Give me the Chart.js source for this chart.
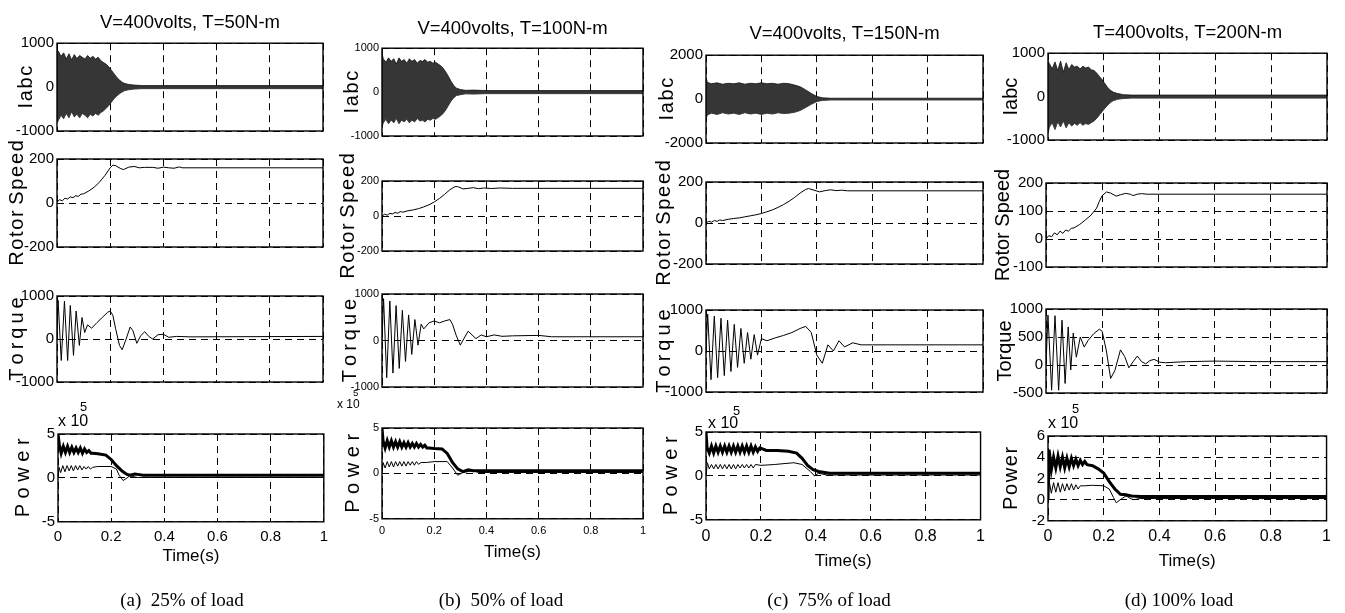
<!DOCTYPE html>
<html>
<head>
<meta charset="utf-8">
<script src="https://cdn.jsdelivr.net/npm/chart.js@4.4.0/dist/chart.umd.min.js"></script>
<style>
body { margin: 0; background: #fff; width: 1345px; height: 613px; position: relative; overflow: hidden; }
canvas { position: absolute; }
.cap { position: absolute; font-family: "Liberation Serif", serif; font-size: 19px; transform: translate(-50%, -50%); white-space: pre; color: #000; }
.exp { position: absolute; font-family: "Liberation Sans", sans-serif; color: #000; line-height: 1; }
</style>
</head>
<body>
<script>
// ---- (a) 25% load ----
const aIabcT = [0, 0.005, 0.015, 0.025, 0.035, 0.045, 0.055, 0.065, 0.075, 0.085, 0.095, 0.105, 0.115, 0.125, 0.135, 0.145, 0.155, 0.165, 0.175, 0.185, 0.195, 0.205, 0.215, 0.225, 0.235, 0.245, 0.255, 0.27, 0.29, 0.32, 0.4, 0.6, 0.8, 1.0];
const aIabcHi = [850, 820, 700, 780, 640, 760, 620, 740, 650, 720, 680, 640, 720, 660, 700, 640, 680, 600, 560, 520, 460, 380, 300, 220, 160, 110, 80, 60, 45, 35, 35, 35, 35, 35];
const aIabcLo = [-820, -760, -640, -720, -600, -700, -560, -680, -620, -700, -600, -640, -700, -620, -660, -600, -640, -580, -540, -480, -420, -340, -260, -200, -150, -110, -80, -60, -45, -35, -35, -35, -35, -35];
const aSpeedT = [0, 0.01, 0.02, 0.03, 0.04, 0.05, 0.06, 0.07, 0.08, 0.09, 0.10, 0.12, 0.14, 0.16, 0.18, 0.20, 0.21, 0.22, 0.24, 0.25, 0.27, 0.29, 0.31, 0.33, 0.36, 0.38, 0.40, 0.42, 0.44, 0.46, 0.47, 1.0];
const aSpeed = [5, 15, 10, 22, 18, 28, 24, 33, 30, 40, 42, 55, 72, 95, 125, 160, 172, 170, 156, 152, 163, 166, 160, 162, 162, 158, 163, 160, 158, 164, 160, 160];
const aTorqueT = [0, 0.004, 0.016, 0.028, 0.04, 0.05, 0.062, 0.072, 0.084, 0.094, 0.104, 0.115, 0.13, 0.15, 0.17, 0.19, 0.2, 0.21, 0.22, 0.235, 0.245, 0.26, 0.275, 0.285, 0.3, 0.315, 0.33, 0.345, 0.36, 0.38, 0.4, 0.42, 0.45, 0.5, 1.0];
const aTorque = [0, 900, -500, 880, -500, 780, -380, 650, -150, 500, 150, 330, 250, 380, 500, 620, 650, 550, 250, -150, -250, 0, 280, 200, -100, 80, 170, 60, 0, 100, 110, 40, 60, 50, 60];
const aPowerT = [0, 0.005, 0.012, 0.02, 0.028, 0.036, 0.044, 0.052, 0.06, 0.068, 0.076, 0.084, 0.092, 0.1, 0.108, 0.116, 0.124, 0.13, 0.15, 0.18, 0.2, 0.22, 0.24, 0.25, 0.26, 0.27, 0.29, 0.3, 0.32, 1.0];
const aPowerThick = [5, 3.8, 2.8, 3.6, 2.9, 3.6, 2.9, 3.5, 2.9, 3.4, 2.9, 3.4, 2.8, 3.3, 2.9, 3.1, 2.8, 2.8, 2.75, 2.6, 2.1, 1.4, 0.8, 0.6, 0.4, 0.3, 0.45, 0.4, 0.3, 0.3];
const aPowerThinT = [0, 0.004, 0.01, 0.018, 0.026, 0.034, 0.042, 0.05, 0.058, 0.066, 0.074, 0.082, 0.09, 0.098, 0.106, 0.114, 0.122, 0.13, 0.15, 0.2, 0.22, 0.23, 0.245, 0.26, 0.27, 0.29, 0.3, 1.0];
const aPowerThin = [0, 1.2, 0.6, 1.4, 0.7, 1.4, 0.8, 1.4, 0.8, 1.4, 0.9, 1.4, 0.9, 1.3, 1.0, 1.3, 1.0, 1.2, 1.3, 1.3, 1.0, 0.3, -0.3, 0.0, 0.25, 0.1, 0.05, 0.05];

// ---- (b) 50% load ----
const bIabcT = [0, 0.005, 0.015, 0.025, 0.035, 0.045, 0.055, 0.065, 0.075, 0.085, 0.095, 0.105, 0.115, 0.125, 0.135, 0.145, 0.155, 0.165, 0.175, 0.185, 0.195, 0.205, 0.215, 0.225, 0.235, 0.245, 0.255, 0.265, 0.275, 0.285, 0.3, 0.32, 0.35, 0.4, 1.0];
const bIabcHi = [880, 760, 680, 780, 700, 760, 640, 780, 700, 740, 660, 760, 700, 740, 660, 720, 700, 740, 680, 700, 660, 680, 640, 600, 540, 450, 350, 240, 150, 90, 60, 40, 45, 35, 35];
const bIabcLo = [-800, -700, -620, -720, -640, -700, -600, -720, -640, -680, -620, -700, -640, -680, -600, -660, -640, -680, -620, -640, -600, -620, -580, -540, -480, -400, -300, -200, -130, -80, -60, -40, -45, -35, -35];
const bSpeedT = [0, 0.01, 0.02, 0.03, 0.04, 0.05, 0.06, 0.07, 0.08, 0.10, 0.12, 0.14, 0.16, 0.18, 0.20, 0.22, 0.24, 0.26, 0.28, 0.29, 0.31, 0.33, 0.35, 0.37, 0.39, 0.42, 0.45, 0.5, 1.0];
const bSpeed = [0, 10, 5, 15, 12, 20, 16, 25, 22, 30, 35, 42, 52, 64, 80, 100, 124, 150, 168, 168, 155, 158, 162, 156, 160, 157, 160, 158, 158];
const bTorqueT = [0, 0.006, 0.018, 0.03, 0.042, 0.054, 0.066, 0.078, 0.09, 0.102, 0.114, 0.126, 0.138, 0.15, 0.16, 0.18, 0.2, 0.22, 0.24, 0.26, 0.27, 0.285, 0.3, 0.315, 0.33, 0.345, 0.36, 0.38, 0.4, 0.43, 0.46, 0.5, 0.6, 0.65, 1.0];
const bTorque = [0, 900, -800, 850, -700, 750, -600, 650, -450, 550, -300, 450, -100, 350, 250, 380, 420, 380, 420, 450, 350, 100, -100, 50, 200, 120, 40, 120, 80, 120, 90, 100, 110, 80, 80];
const bPowerT = [0, 0.004, 0.012, 0.02, 0.028, 0.036, 0.044, 0.052, 0.06, 0.068, 0.076, 0.084, 0.092, 0.1, 0.108, 0.116, 0.124, 0.132, 0.14, 0.148, 0.156, 0.164, 0.172, 0.18, 0.2, 0.23, 0.25, 0.27, 0.29, 0.31, 0.33, 0.35, 1.0];
const bPowerThick = [5, 3.6, 2.8, 3.6, 2.9, 3.6, 2.9, 3.5, 2.9, 3.5, 2.9, 3.4, 2.9, 3.4, 2.9, 3.3, 2.9, 3.3, 2.9, 3.2, 2.9, 3.1, 2.8, 2.8, 2.75, 2.7, 2.2, 1.2, 0.5, 0.2, 0.4, 0.3, 0.3];
const bPowerThinT = [0, 0.004, 0.012, 0.02, 0.028, 0.036, 0.044, 0.052, 0.06, 0.068, 0.076, 0.084, 0.092, 0.1, 0.108, 0.116, 0.124, 0.132, 0.14, 0.15, 0.17, 0.2, 0.25, 0.27, 0.29, 0.31, 0.33, 0.35, 0.37, 1.0];
const bPowerThin = [0, 1.2, 0.6, 1.3, 0.7, 1.3, 0.7, 1.3, 0.8, 1.3, 0.8, 1.3, 0.8, 1.3, 0.9, 1.3, 0.9, 1.3, 1.0, 1.2, 1.2, 1.3, 1.3, 0.6, -0.2, 0.1, 0.2, 0.3, 0.1, 0.1];

// ---- (c) 75% load ----
const cIabcT = [0, 0.005, 0.02, 0.04, 0.06, 0.08, 0.10, 0.12, 0.14, 0.16, 0.18, 0.20, 0.22, 0.24, 0.26, 0.28, 0.30, 0.32, 0.34, 0.36, 0.38, 0.40, 0.42, 0.45, 0.5, 1.0];
const cIabcHi = [1000, 760, 700, 740, 680, 720, 700, 740, 680, 720, 700, 740, 700, 720, 680, 720, 700, 640, 560, 420, 260, 120, 60, 40, 40, 40];
const cIabcLo = [-900, -720, -640, -700, -620, -680, -640, -700, -620, -680, -640, -700, -640, -680, -620, -660, -640, -600, -520, -380, -240, -110, -60, -40, -40, -40];
const cSpeedT = [0, 0.01, 0.02, 0.03, 0.04, 0.05, 0.06, 0.08, 0.10, 0.12, 0.14, 0.16, 0.18, 0.20, 0.22, 0.24, 0.26, 0.28, 0.30, 0.32, 0.34, 0.36, 0.37, 0.39, 0.41, 0.43, 0.45, 0.47, 0.49, 0.51, 1.0];
const cSpeed = [0, 8, 4, 12, 8, 15, 12, 18, 22, 25, 30, 35, 40, 46, 55, 64, 76, 90, 106, 125, 146, 164, 168, 160, 152, 158, 162, 158, 160, 157, 157];
const cTorqueT = [0, 0.006, 0.018, 0.03, 0.042, 0.054, 0.066, 0.078, 0.09, 0.102, 0.114, 0.126, 0.138, 0.15, 0.162, 0.174, 0.186, 0.2, 0.22, 0.25, 0.28, 0.31, 0.34, 0.36, 0.38, 0.4, 0.42, 0.44, 0.46, 0.48, 0.5, 0.53, 0.56, 0.6, 1.0];
const cTorque = [0, 900, -700, 850, -650, 800, -600, 750, -500, 650, -400, 550, -300, 450, -200, 400, -100, 300, 250, 320, 380, 450, 550, 600, 450, -100, -300, 150, 0, 250, 100, 200, 150, 150, 150];
const cPowerT = [0, 0.004, 0.012, 0.02, 0.028, 0.036, 0.044, 0.052, 0.06, 0.068, 0.076, 0.084, 0.092, 0.1, 0.108, 0.116, 0.124, 0.132, 0.14, 0.148, 0.156, 0.164, 0.172, 0.18, 0.188, 0.196, 0.22, 0.26, 0.3, 0.33, 0.35, 0.37, 0.39, 0.41, 0.45, 1.0];
const cPowerThick = [5, 3.2, 2.6, 3.4, 2.6, 3.4, 2.7, 3.4, 2.7, 3.4, 2.7, 3.4, 2.7, 3.4, 2.7, 3.4, 2.7, 3.4, 2.7, 3.4, 2.7, 3.4, 2.7, 3.3, 2.8, 3.2, 2.9, 2.9, 2.8, 2.6, 2.0, 1.2, 0.7, 0.5, 0.3, 0.3];
const cPowerThinT = [0, 0.005, 0.012, 0.02, 0.028, 0.036, 0.044, 0.052, 0.06, 0.068, 0.076, 0.084, 0.092, 0.1, 0.108, 0.116, 0.124, 0.132, 0.14, 0.148, 0.156, 0.164, 0.172, 0.18, 0.2, 0.25, 0.32, 0.35, 0.38, 0.395, 0.41, 0.44, 1.0];
const cPowerThin = [0, 1.5, 0.8, 1.3, 0.8, 1.3, 0.8, 1.3, 0.8, 1.3, 0.8, 1.3, 0.8, 1.3, 0.8, 1.3, 0.9, 1.3, 0.9, 1.3, 0.9, 1.3, 0.9, 1.3, 1.2, 1.3, 1.5, 1.3, 0.5, 0.0, 0.3, 0.1, 0.1];

// ---- (d) 100% load ----
const dIabcT = [0, 0.005, 0.015, 0.025, 0.035, 0.045, 0.055, 0.065, 0.075, 0.085, 0.095, 0.105, 0.115, 0.125, 0.135, 0.145, 0.155, 0.165, 0.175, 0.185, 0.195, 0.205, 0.215, 0.225, 0.235, 0.25, 0.27, 0.3, 0.4, 1.0];
const dIabcHi = [820, 760, 640, 800, 600, 820, 560, 780, 620, 740, 680, 700, 640, 700, 660, 680, 620, 600, 540, 460, 380, 290, 200, 140, 100, 70, 45, 35, 35, 35];
const dIabcLo = [-850, -700, -600, -760, -580, -700, -560, -720, -600, -680, -620, -660, -600, -660, -620, -640, -600, -560, -500, -420, -340, -260, -190, -130, -90, -60, -45, -35, -35, -35];
const dSpeedT = [0, 0.01, 0.02, 0.03, 0.04, 0.05, 0.06, 0.07, 0.08, 0.09, 0.10, 0.12, 0.14, 0.16, 0.18, 0.19, 0.2, 0.215, 0.23, 0.25, 0.265, 0.283, 0.3, 0.31, 0.325, 0.34, 0.36, 1.0];
const dSpeed = [0, 12, 8, 22, 15, 28, 20, 32, 28, 38, 40, 52, 68, 85, 110, 135, 155, 168, 164, 153, 158, 163, 160, 155, 160, 162, 160, 160];
const dTorqueT = [0, 0.007, 0.02, 0.032, 0.045, 0.057, 0.068, 0.079, 0.088, 0.097, 0.108, 0.122, 0.136, 0.15, 0.17, 0.19, 0.2, 0.215, 0.23, 0.245, 0.265, 0.28, 0.295, 0.31, 0.325, 0.34, 0.355, 0.37, 0.385, 0.405, 0.425, 0.5, 0.6, 0.75, 1.0];
const dTorque = [0, 890, -450, 880, -450, 800, -330, 680, -90, 570, 140, 500, 320, 440, 560, 640, 600, 250, -240, -100, 270, 150, -50, 60, 160, 60, 20, 80, 100, 50, 40, 60, 70, 60, 60];
const dPowerT = [0, 0.004, 0.012, 0.02, 0.028, 0.036, 0.044, 0.052, 0.06, 0.068, 0.076, 0.084, 0.092, 0.1, 0.108, 0.116, 0.124, 0.132, 0.14, 0.16, 0.18, 0.2, 0.22, 0.24, 0.26, 0.28, 0.3, 0.33, 1.0];
const dPowerThick = [0, 4.7, 2.8, 4.0, 3.0, 4.1, 3.1, 4.0, 3.0, 3.9, 3.1, 3.9, 3.2, 3.8, 3.2, 3.7, 3.3, 3.6, 3.3, 3.2, 2.9, 2.5, 1.7, 1.0, 0.5, 0.45, 0.35, 0.3, 0.3];
const dPowerThinT = [0, 0.004, 0.012, 0.02, 0.028, 0.036, 0.044, 0.052, 0.06, 0.068, 0.076, 0.084, 0.092, 0.1, 0.108, 0.116, 0.13, 0.16, 0.2, 0.22, 0.235, 0.245, 0.26, 0.28, 0.3, 0.31, 0.33, 1.0];
const dPowerThin = [1.0, 1.8, 0.6, 1.6, 0.7, 1.6, 0.7, 1.5, 0.8, 1.5, 0.9, 1.5, 0.9, 1.4, 1.0, 1.3, 1.3, 1.35, 1.3, 1.0, 0.2, -0.3, 0.0, 0.35, 0.05, 0.0, 0.1, 0.1];

const titles = ['V=400volts, T=50N-m', 'V=400volts, T=100N-m', 'V=400volts, T=150N-m', 'T=400volts, T=200N-m'];
const captions = ['(a)  25% of load', '(b)  50% of load', '(c)  75% of load', '(d) 100% load'];

Chart.defaults.color = '#000';
const FONT = '"Liberation Sans", Arial, sans-serif';

const pts = (t, v) => t.map((x, i) => ({ x: x, y: v[i] }));
const spaced = (s, sep) => s.split('').join(sep);
const HAIR = '\u200A', THIN = '\u2009';

// full frame round each plot, like the MATLAB axes box
const boxPlugin = {
    id: 'box',
    afterDraw(chart) {
        const a = chart.chartArea, ctx = chart.ctx;
        ctx.save();
        ctx.strokeStyle = '#000';
        ctx.lineWidth = 1.4;
        ctx.strokeRect(a.left, a.top, a.right - a.left, a.bottom - a.top);
        ctx.restore();
    }
};

const lineSet = (data, w) => ({ data: data, borderColor: '#000', borderWidth: w, pointRadius: 0, fill: false, tension: 0 });
const envSets = (t, hi, lo) => [
    { data: pts(t, hi), borderColor: '#111', borderWidth: 0.8, backgroundColor: '#363636', pointRadius: 0, fill: '+1', tension: 0 },
    { data: pts(t, lo), borderColor: '#111', borderWidth: 0.8, pointRadius: 0, fill: false, tension: 0 }
];

function makePanel(p) {
    const [l, t, r, b] = p.box;
    const yFs = p.yFs || 20;
    const yw = p.yLabOff + yFs * 0.6;
    const titleFs = 18.5;
    const titleH = p.title ? titleFs * 1.2 + p.titleGap : 0;
    const xh = p.bottom ? p.xh : 2;
    const padTop = 30, padRight = 10, padBottom = 30;
    const W = Math.round((r - l) + yw + padRight);
    const H = Math.round(padTop + titleH + (b - t) + xh + padBottom);
    const cv = document.createElement('canvas');
    cv.width = W; cv.height = H;
    cv.style.width = W + 'px'; cv.style.height = H + 'px';
    cv.style.left = (l - yw) + 'px';
    cv.style.top = (t - padTop - titleH) + 'px';
    document.body.appendChild(cv);

    new Chart(cv, {
        type: 'line',
        data: { datasets: p.datasets },
        options: {
            responsive: false,
            animation: false,
            events: [],
            layout: { padding: { top: padTop, right: padRight, bottom: padBottom, left: 0 } },
            plugins: {
                legend: { display: false },
                tooltip: { enabled: false },
                title: {
                    display: !!p.title,
                    text: p.title || '',
                    fullSize: false,
                    color: '#000',
                    font: { family: FONT, size: titleFs, weight: 'normal', lineHeight: 1.2 },
                    padding: { top: 0, bottom: p.titleGap || 0 }
                }
            },
            scales: {
                x: {
                    type: 'linear',
                    min: 0, max: 1,
                    afterFit: (s) => { s.height = xh; },
                    ticks: {
                        display: !!p.bottom,
                        stepSize: 0.2,
                        autoSkip: false,
                        padding: p.xTickPad || 4,
                        maxRotation: 0,
                        font: { family: FONT, size: p.xFs || 15 },
                        callback: (v) => String(+v.toFixed(1))
                    },
                    grid: { color: '#000', lineWidth: 1, drawTicks: false },
                    border: { display: false, dash: [7, 5] },
                    title: {
                        display: !!p.bottom,
                        text: 'Time(s)',
                        padding: 0,
                        font: { family: FONT, size: 17 }
                    }
                },
                y: {
                    min: p.min, max: p.max,
                    afterFit: (s) => { s.width = yw; },
                    ticks: {
                        stepSize: p.step,
                        autoSkip: false,
                        padding: 3,
                        font: { family: FONT, size: p.tickFs },
                        callback: (v) => String(v)
                    },
                    grid: { color: '#000', lineWidth: 1, drawTicks: false },
                    border: { display: false, dash: [7, 5] },
                    title: {
                        display: true,
                        text: p.yTitle,
                        padding: 0,
                        font: { family: FONT, size: yFs }
                    }
                }
            }
        },
        plugins: [boxPlugin]
    });
}

const panels = [
    // column a
    { box: [57, 43, 323, 131], min: -1000, max: 1000, step: 1000, tickFs: 15, yTitle: spaced('Iabc', HAIR), yLabOff: 31, title: titles[0], titleGap: 9, datasets: envSets(aIabcT, aIabcHi, aIabcLo) },
    { box: [57, 159, 323, 247], min: -200, max: 200, step: 200, tickFs: 15, yTitle: spaced('Rotor', HAIR) + ' ' + spaced('Speed', HAIR), yLabOff: 40, datasets: [lineSet(pts(aSpeedT, aSpeed), 1)] },
    { box: [57, 296, 323, 382], min: -1000, max: 1000, step: 1000, tickFs: 15, yTitle: spaced('Torque', THIN), yLabOff: 40, datasets: [lineSet(pts(aTorqueT, aTorque), 1)] },
    { box: [58, 434, 324, 522], min: -5, max: 5, step: 5, tickFs: 15, yTitle: spaced('Power', ' '), yLabOff: 35, bottom: true, xh: 45.2, xFs: 15, xTickPad: 6, datasets: [lineSet(pts(aPowerT, aPowerThick), 3), lineSet(pts(aPowerThinT, aPowerThin), 1)] },
    // column b
    { box: [382, 48, 643, 136], min: -1000, max: 1000, step: 1000, tickFs: 11, yTitle: spaced('Iabc', HAIR), yLabOff: 30, title: titles[1], titleGap: 8, datasets: envSets(bIabcT, bIabcHi, bIabcLo) },
    { box: [382, 181, 643, 251], min: -200, max: 200, step: 200, tickFs: 11, yTitle: spaced('Rotor', HAIR) + ' ' + spaced('Speed', HAIR), yLabOff: 34, datasets: [lineSet(pts(bSpeedT, bSpeed), 1)] },
    { box: [382, 294, 643, 387], min: -1000, max: 1000, step: 1000, tickFs: 11, yTitle: spaced('Torque', THIN), yLabOff: 32, datasets: [lineSet(pts(bTorqueT, bTorque), 1)] },
    { box: [382, 428, 643, 519], min: -5, max: 5, step: 5, tickFs: 11, yTitle: spaced('Power', ' '), yLabOff: 29, bottom: true, xh: 44.2, xFs: 11, xTickPad: 6, datasets: [lineSet(pts(bPowerT, bPowerThick), 3), lineSet(pts(bPowerThinT, bPowerThin), 1)] },
    // column c
    { box: [706, 55, 983, 143], min: -2000, max: 2000, step: 2000, tickFs: 15, yTitle: spaced('Iabc', HAIR), yLabOff: 39, title: titles[2], titleGap: 10, datasets: envSets(cIabcT, cIabcHi, cIabcLo) },
    { box: [706, 182, 983, 264], min: -200, max: 200, step: 200, tickFs: 15, yTitle: spaced('Rotor', HAIR) + ' ' + spaced('Speed', HAIR), yLabOff: 42, datasets: [lineSet(pts(cSpeedT, cSpeed), 1)] },
    { box: [706, 310, 983, 392], min: -1000, max: 1000, step: 1000, tickFs: 15, yTitle: spaced('Torque', THIN), yLabOff: 42, datasets: [lineSet(pts(cTorqueT, cTorque), 1)] },
    { box: [706, 432, 982, 520], min: -5, max: 5, step: 5, tickFs: 15, yTitle: spaced('Power', ' '), yLabOff: 35, bottom: true, xh: 52.2, xFs: 16, xTickPad: 7, datasets: [lineSet(pts(cPowerT, cPowerThick), 3), lineSet(pts(cPowerThinT, cPowerThin), 1)] },
    // column d
    { box: [1048, 53, 1327, 140], min: -1000, max: 1000, step: 1000, tickFs: 15, yTitle: 'Iabc', yLabOff: 37, title: titles[3], titleGap: 9, datasets: envSets(dIabcT, dIabcHi, dIabcLo) },
    { box: [1046, 183, 1327, 267], min: -100, max: 200, step: 100, tickFs: 15, yTitle: 'Rotor Speed', yLabOff: 43, datasets: [lineSet(pts(dSpeedT, dSpeed), 1)] },
    { box: [1046, 309, 1327, 393], min: -500, max: 1000, step: 500, tickFs: 15, yTitle: 'Torque', yLabOff: 41, datasets: [lineSet(pts(dTorqueT, dTorque), 1)] },
    { box: [1048, 436, 1327, 521], min: -2, max: 6, step: 2, tickFs: 15, yTitle: spaced('Power', HAIR), yLabOff: 37, bottom: true, xh: 51.2, xFs: 16, xTickPad: 6, datasets: [lineSet(pts(dPowerT, dPowerThick), 3), lineSet(pts(dPowerThinT, dPowerThin), 1)] }
];

panels.forEach(makePanel);

// x10^5 multipliers above the power panels
const expPos = [[58, 413, 80, 401, 16], [337, 398, 353, 388, 12], [708, 415, 733, 405, 16], [1048, 415, 1072, 403, 16]];
expPos.forEach(([x, y, sx, sy, fs]) => {
    const m = document.createElement('div');
    m.className = 'exp';
    m.style.left = x + 'px'; m.style.top = y + 'px'; m.style.fontSize = fs + 'px';
    m.textContent = 'x 10';
    document.body.appendChild(m);
    const e = document.createElement('div');
    e.className = 'exp';
    e.style.left = sx + 'px'; e.style.top = sy + 'px'; e.style.fontSize = (fs * 0.8) + 'px';
    e.textContent = '5';
    document.body.appendChild(e);
});

// sub-figure captions
const capX = [182, 501, 829, 1179];
captions.forEach((txt, i) => {
    const d = document.createElement('div');
    d.className = 'cap';
    d.style.left = capX[i] + 'px';
    d.style.top = '600px';
    d.textContent = txt;
    document.body.appendChild(d);
});
</script>
</body>
</html>
